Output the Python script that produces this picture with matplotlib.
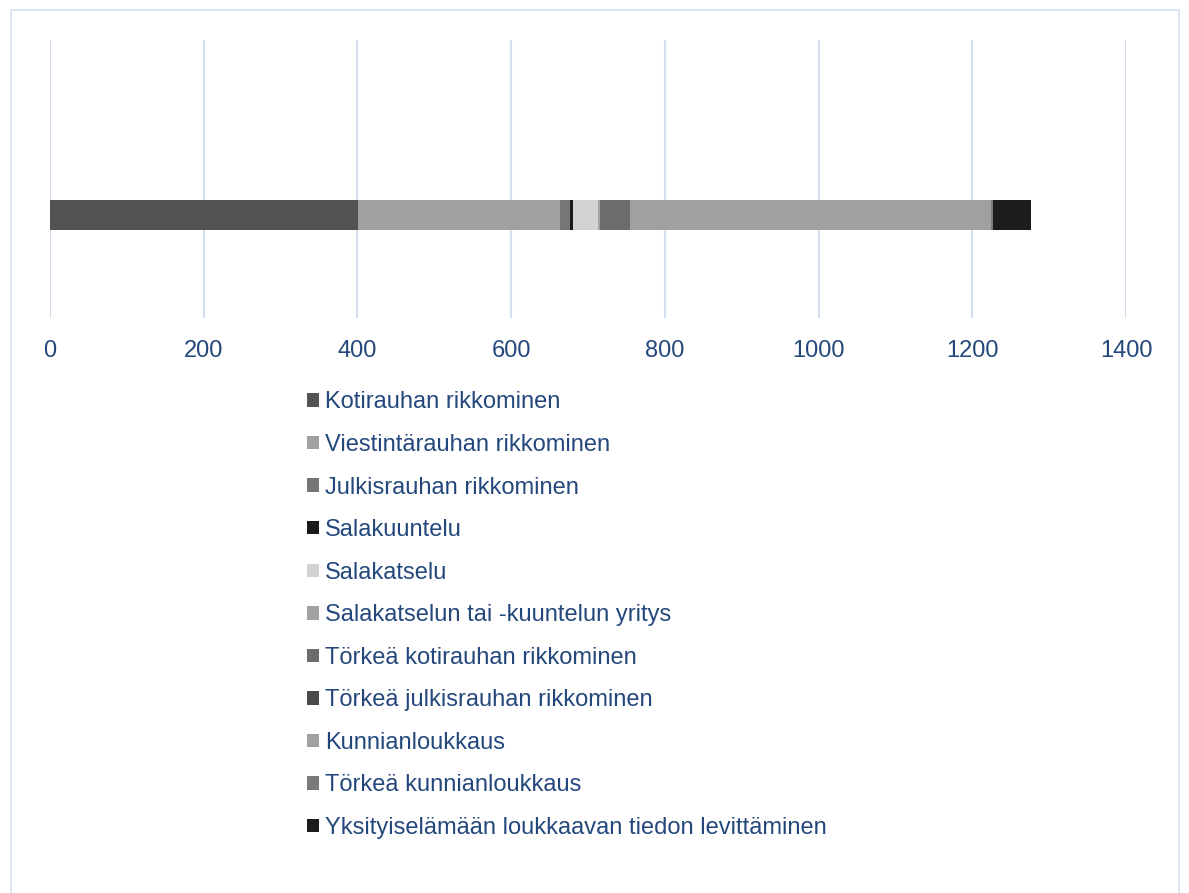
#!/usr/bin/env python3

import matplotlib
matplotlib.use("Agg")
import matplotlib.pyplot as plt
from matplotlib.patches import Rectangle

# data
categories = ["Kotirauhan rikkominen",
              "Viestintärauhan rikkominen",
              "Julkisrauhan rikkominen",
              "Salakuuntelu",
              "Salakatselu",
              "Salakatselun tai -kuuntelun yritys",
              "Törkeä kotirauhan rikkominen",
              "Törkeä julkisrauhan rikkominen",
              "Kunnianloukkaus",
              "Törkeä kunnianloukkaus",
              "Yksityiselämään loukkaavan tiedon levittäminen"]
values = [401, 263, 12, 4, 33, 2, 39, 1, 469, 3, 49]
colors = ["#525252", "#a0a0a0", "#767676", "#1a1a1a", "#d2d2d2", "#a2a2a2",
          "#6c6c6c", "#4a4a4a", "#a0a0a0", "#7a7a7a", "#1c1c1c"]
xticks = [0, 200, 400, 600, 800, 1000, 1200, 1400]

textcol = "#24487c"
gridcol = "#d3dff0"

plt.rcParams["font.family"] = ["Liberation Sans", "DejaVu Sans"]

fig = plt.figure(figsize=(11.89, 8.93), dpi=100)
ax = fig.add_axes([50/1189, 575/893, 1076/1189, 278/893])

left = 0
for cat, v, c in zip(categories, values, colors):
    ax.barh(0, v, left=left, height=0.108, color=c, label=cat, zorder=3)
    left += v

ax.set_xlim(0, 1400)
ax.set_ylim(-0.37, 0.63)
ax.set_xticks(xticks)
ax.set_xticklabels([str(t) for t in xticks], color=textcol, fontsize=17)
ax.tick_params(axis="x", length=0, pad=16)
ax.set_yticks([])
ax.grid(axis="x", color=gridcol, lw=1.5, zorder=0)
for s in ax.spines.values():
    s.set_visible(False)

leg = fig.legend(loc="upper left", bbox_to_anchor=(298/1189, 1 - 382/893),
                 frameon=False, ncol=1, fontsize=17, labelcolor=textcol,
                 handlelength=0.5, handleheight=0.5, handletextpad=0.25,
                 labelspacing=0.87, borderaxespad=0)

# outer chart border
fig.patches.append(Rectangle((11/1189, -0.05), 1168/1189, 1.05 - 10/893,
                             transform=fig.transFigure, fill=False,
                             ec=gridcol, lw=1.2))

fig.savefig("out.png", dpi=100)
